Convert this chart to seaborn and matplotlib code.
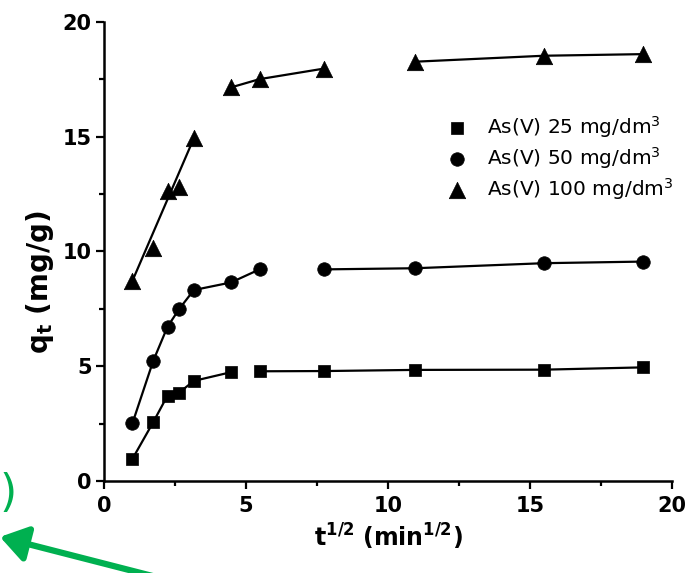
import numpy as np
import pandas as pd
import matplotlib
matplotlib.use("Agg")
import matplotlib.pyplot as plt
from matplotlib.ticker import MultipleLocator
import seaborn as sns

# contact time (min) and uptake q_t (mg/g) for three initial As(V) concentrations
time_min = [1, 3, 5, 7, 10, 20, 30, 60, 120, 240, 360]
q_25 = [0.96, 2.56, 3.72, 3.85, 4.36, 4.74, 4.78, 4.79, 4.84, 4.85, 4.95]
q_50 = [2.51, 5.23, 6.72, 7.49, 8.32, 8.65, 9.22, 9.22, 9.27, 9.49, 9.56]
q_100 = [8.72, 10.17, 12.63, 12.80, 14.93, 17.15, 17.51, 17.97, 18.27, 18.53, 18.60]

series_labels = [r"As(V) 25 mg/dm$^3$", r"As(V) 50 mg/dm$^3$", r"As(V) 100 mg/dm$^3$"]

# intraparticle-diffusion stages: indices of the points joined in each stage
stages_25 = [[0, 1, 2, 3, 4, 5], [6, 7, 8, 9, 10]]
stages_50 = [[0, 1, 2, 3, 4, 5, 6], [7, 8, 9, 10]]
stages_100 = [[0, 4], [5, 6, 7], [8, 9, 10]]

x_ticks = [0, 5, 10, 15, 20]
y_ticks = [0, 5, 10, 15, 20]

sqrt_t = np.sqrt(time_min)
df = pd.concat(
    [pd.DataFrame({"sqrt_t": sqrt_t, "q": q, "series": lab})
     for q, lab in zip([q_25, q_50, q_100], series_labels)],
    ignore_index=True,
)

sns.set_theme(style="ticks")
plt.rcParams.update({
    "font.family": ["DejaVu Sans"],
    "mathtext.fontset": "dejavusans",
    "text.color": "black",
    "axes.labelcolor": "black",
    "xtick.color": "black",
    "ytick.color": "black",
    "axes.edgecolor": "black",
    "axes.linewidth": 1.8,
    "xtick.major.width": 1.6,
    "ytick.major.width": 1.6,
    "xtick.minor.width": 1.6,
    "ytick.minor.width": 1.6,
    "xtick.major.size": 6,
    "ytick.major.size": 6,
    "xtick.minor.size": 3.5,
    "ytick.minor.size": 3.5,
    "xtick.direction": "out",
    "ytick.direction": "out",
})

fig = plt.figure(figsize=(6.87, 5.73), dpi=100)
ax = fig.add_axes([0.1514, 0.1606, 0.8266, 0.801])

styles = [("s", 80), ("o", 95), ("^", 140)]
stage_sets = [stages_25, stages_50, stages_100]

for lab, (marker, size), stages in zip(series_labels, styles, stage_sets):
    sub = df[df["series"] == lab].reset_index(drop=True)
    for idx in stages:
        seg = sub.iloc[idx]
        sns.lineplot(data=seg, x="sqrt_t", y="q", sort=False, estimator=None,
                     color="black", linewidth=1.6, ax=ax, legend=False, zorder=2)
    sns.scatterplot(data=sub, x="sqrt_t", y="q", marker=marker, s=size,
                    color="black", edgecolor="black", linewidth=0.5,
                    ax=ax, label=lab, zorder=3)

ax.set_xlim(0, 20)
ax.set_ylim(0, 20)
ax.set_xticks(x_ticks)
ax.set_yticks(y_ticks)
ax.xaxis.set_minor_locator(MultipleLocator(2.5))
ax.yaxis.set_minor_locator(MultipleLocator(2.5))
ax.tick_params(axis="x", which="major", labelsize=15, pad=5)
ax.tick_params(axis="y", which="major", labelsize=15, pad=3)
for lbl in ax.get_xticklabels() + ax.get_yticklabels():
    lbl.set_fontweight("bold")

sns.despine(ax=ax)

ax.set_xlabel(r"$\mathbf{t^{1/2}\ (min^{1/2})}$", fontsize=17)
ax.set_ylabel(r"$\mathbf{q_t}$ (mg/g)", fontsize=20, fontweight="bold")
ax.xaxis.set_label_coords(0.5, -0.09)
ax.yaxis.set_label_coords(-0.085, 0.434)

handles, labels = ax.get_legend_handles_labels()
ax.legend(handles, labels, frameon=False, loc="upper left",
          bbox_to_anchor=(0.600, 0.800), fontsize=14.5, handlelength=1.2,
          handletextpad=0.9, labelspacing=0.25, borderpad=0, borderaxespad=0,
          labelcolor="black")

# green markings at the lower-left corner
green = "#00B050"
fig.text(0.012, 0.138, ")", color=green, fontsize=32, ha="center", va="center")
ax.annotate("", xy=(0.0, 0.063), xycoords="figure fraction",
            xytext=(0.27, -0.02), textcoords="figure fraction",
            annotation_clip=False,
            arrowprops=dict(arrowstyle="-|>,head_length=0.45,head_width=0.3",
                            mutation_scale=36, lw=4.5, color=green,
                            shrinkA=0, shrinkB=0))

fig.savefig("out.png", dpi=100)
